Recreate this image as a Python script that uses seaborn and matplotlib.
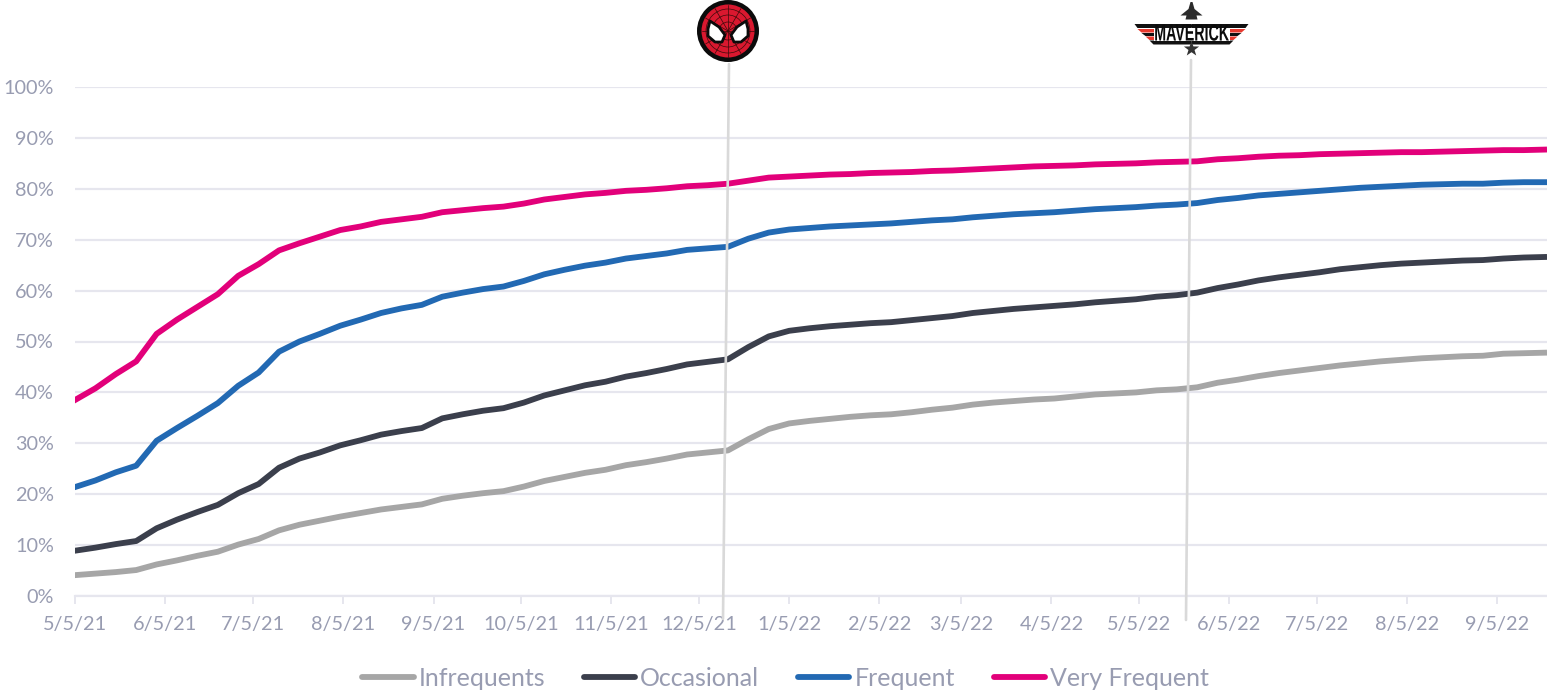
import numpy as np
import pandas as pd
import matplotlib
matplotlib.use("Agg")
import matplotlib.pyplot as plt
from matplotlib.lines import Line2D
from matplotlib.patches import Circle, Polygon
from matplotlib.patheffects import AbstractPathEffect
from matplotlib.transforms import Affine2D
from matplotlib.ticker import FuncFormatter
import seaborn as sns

start_date = "2021-05-05"
n_weeks = 73

infrequents = [4.1, 4.4, 4.7, 5.1, 6.2, 7.0, 7.9, 8.7, 10.1, 11.2, 12.9, 14.0, 14.8, 15.6, 16.3, 17.0, 17.5, 18.0, 19.1, 19.7, 20.2, 20.6, 21.5, 22.6, 23.4, 24.2, 24.8, 25.7, 26.3, 27.0, 27.8, 28.2, 28.6, 30.8, 32.8, 33.9, 34.4, 34.8, 35.2, 35.5, 35.7, 36.1, 36.6, 37.0, 37.6, 38.0, 38.3, 38.6, 38.8, 39.2, 39.6, 39.8, 40.0, 40.4, 40.6, 41.0, 41.9, 42.5, 43.2, 43.8, 44.3, 44.8, 45.3, 45.7, 46.1, 46.4, 46.7, 46.9, 47.1, 47.2, 47.6, 47.7, 47.8]
occasional = [8.9, 9.5, 10.2, 10.8, 13.3, 15.0, 16.5, 17.9, 20.2, 22.0, 25.2, 27.0, 28.2, 29.6, 30.6, 31.7, 32.4, 33.0, 34.9, 35.7, 36.4, 36.9, 38.0, 39.4, 40.4, 41.4, 42.1, 43.1, 43.8, 44.6, 45.5, 46.0, 46.5, 48.9, 51.0, 52.1, 52.6, 53.0, 53.3, 53.6, 53.8, 54.2, 54.6, 55.0, 55.6, 56.0, 56.4, 56.7, 57.0, 57.3, 57.7, 58.0, 58.3, 58.8, 59.1, 59.6, 60.5, 61.2, 62.0, 62.6, 63.1, 63.6, 64.2, 64.6, 65.0, 65.3, 65.5, 65.7, 65.9, 66.0, 66.3, 66.5, 66.6]
frequent = [21.4, 22.7, 24.3, 25.6, 30.5, 33.0, 35.4, 37.9, 41.3, 43.9, 48.0, 50.0, 51.5, 53.1, 54.3, 55.6, 56.5, 57.2, 58.8, 59.6, 60.3, 60.8, 61.9, 63.2, 64.1, 64.9, 65.5, 66.3, 66.8, 67.3, 68.0, 68.3, 68.6, 70.2, 71.4, 72.0, 72.3, 72.6, 72.8, 73.0, 73.2, 73.5, 73.8, 74.0, 74.4, 74.7, 75.0, 75.2, 75.4, 75.7, 76.0, 76.2, 76.4, 76.7, 76.9, 77.2, 77.8, 78.2, 78.7, 79.0, 79.3, 79.6, 79.9, 80.2, 80.4, 80.6, 80.8, 80.9, 81.0, 81.0, 81.2, 81.3, 81.3]
very_frequent = [38.5, 40.8, 43.6, 46.1, 51.5, 54.3, 56.8, 59.3, 62.9, 65.2, 67.9, 69.3, 70.6, 71.9, 72.6, 73.5, 74.0, 74.5, 75.4, 75.8, 76.2, 76.5, 77.1, 77.9, 78.4, 78.9, 79.2, 79.6, 79.8, 80.1, 80.5, 80.7, 81.0, 81.6, 82.2, 82.4, 82.6, 82.8, 82.9, 83.1, 83.2, 83.3, 83.5, 83.6, 83.8, 84.0, 84.2, 84.4, 84.5, 84.6, 84.8, 84.9, 85.0, 85.2, 85.3, 85.4, 85.8, 86.0, 86.3, 86.5, 86.6, 86.8, 86.9, 87.0, 87.1, 87.2, 87.2, 87.3, 87.4, 87.5, 87.6, 87.6, 87.7]

series_names = ["Infrequents", "Occasional", "Frequent", "Very Frequent"]
series_colors = ["#A6A6A6", "#3B3F4C", "#2269B3", "#E2007A"]
x_tick_dates = ["2021-05-05", "2021-06-05", "2021-07-05", "2021-08-05", "2021-09-05", "2021-10-05",
                "2021-11-05", "2021-12-05", "2022-01-05", "2022-02-05", "2022-03-05", "2022-04-05",
                "2022-05-05", "2022-06-05", "2022-07-05", "2022-08-05", "2022-09-05"]
x_tick_labels = ["5/5/21", "6/5/21", "7/5/21", "8/5/21", "9/5/21", "10/5/21", "11/5/21", "12/5/21",
                 "1/5/22", "2/5/22", "3/5/22", "4/5/22", "5/5/22", "6/5/22", "7/5/22", "8/5/22", "9/5/22"]

sns.set_theme(style="white")
plt.rcParams["font.family"] = ["Lato", "DejaVu Sans"]
TEXT = "#989CB1"
GRID = "#E6E6EE"
W, H = 1547, 693
LW = 4.2

dates = pd.date_range(start_date, periods=n_weeks, freq="7D")
df = pd.DataFrame({"date": dates, "Infrequents": infrequents, "Occasional": occasional,
                   "Frequent": frequent, "Very Frequent": very_frequent})
long = df.melt("date", var_name="segment", value_name="share")

fig = plt.figure(figsize=(W / 100, H / 100), dpi=100, facecolor="white")
ax = fig.add_axes([75 / W, 1 - 596 / H, (W - 75) / W, (596 - 87) / H])
sns.lineplot(data=long, x="date", y="share", hue="segment", hue_order=series_names,
             palette=series_colors, linewidth=LW, ax=ax, legend=False, zorder=3)
for ln in ax.get_lines():
    ln.set_solid_joinstyle("round")
    ln.set_solid_capstyle("projecting")

ax.set_xlim(dates[0], dates[-1] + pd.Timedelta(days=1))
ax.set_ylim(0, 100)
ax.set_xlabel("")
ax.set_ylabel("")
ax.set_yticks(np.arange(0, 101, 10))
ax.yaxis.set_major_formatter(FuncFormatter(lambda v, _: f"{int(v)}%"))
ax.set_xticks(pd.to_datetime(x_tick_dates))
ax.set_xticklabels(x_tick_labels)
ax.grid(axis="y", color=GRID, linewidth=1.6, zorder=0)
ax.grid(axis="x", visible=False)
for s in ["top", "right", "left"]:
    ax.spines[s].set_visible(False)
ax.spines["bottom"].set_color(GRID)
ax.spines["bottom"].set_linewidth(1.6)
ax.tick_params(axis="y", length=0, labelsize=14.3, labelcolor=TEXT, pad=15)
ax.tick_params(axis="x", length=5.5, width=1.4, color=GRID, labelsize=14.3, labelcolor=TEXT, pad=9,
               bottom=True)

handles = [Line2D([0], [0], color=c, lw=LW, solid_capstyle="round") for c in series_colors]
leg = ax.legend(handles, series_names, ncol=4, loc="center", frameon=False, fontsize=18,
                handlelength=2.05, handletextpad=0.2, columnspacing=1.55, borderpad=0)
for t in leg.get_texts():
    t.set_color(TEXT)
leg.set_bbox_to_anchor((785.5 / W, 1 - 678.5 / H), transform=fig.transFigure)

# overlay in pixel coordinates for the annotation lines and logo badges
ov = fig.add_axes([0, 0, 1, 1], facecolor="none")
ov.set_xlim(0, W)
ov.set_ylim(H, 0)
ov.axis("off")
ov.add_line(Line2D([729, 723], [64, 619], color="#D9D9D9", lw=1.9, zorder=4))
ov.add_line(Line2D([1191, 1186], [60, 620], color="#D9D9D9", lw=1.9, zorder=4))

# spider badge
cx, cy = 728, 31
ov.add_patch(Circle((cx, cy), 31, fc="#0B0B0B", ec="none", zorder=5))
ov.add_patch(Circle((cx, cy), 26.5, fc="#D9182F", ec="none", zorder=6))
for ang in np.arange(0, 360, 30):
    a = np.deg2rad(ang)
    ov.add_line(Line2D([cx, cx + 26 * np.cos(a)], [cy, cy + 26 * np.sin(a)], color="#3A0A0A", lw=0.5, zorder=7))
for r in (9, 16, 22):
    ov.add_patch(Circle((cx, cy), r, fc="none", ec="#3A0A0A", lw=0.5, zorder=7))
for sgn in (-1, 1):
    pts = [(cx + sgn * 3, cy + 4), (cx + sgn * 6, cy + 11), (cx + sgn * 13, cy + 11),
           (cx + sgn * 20, cy + 5), (cx + sgn * 20, cy - 2), (cx + sgn * 18, cy - 10), (cx + sgn * 9, cy - 4)]
    ov.add_patch(Polygon(pts, closed=True, fc="white", ec="#0B0B0B", lw=2.0, joinstyle="round", zorder=8))

# maverick badge
mx = 1191.5
ov.add_patch(Polygon([(mx - 1, 2), (mx + 1, 2), (mx + 3, 9), (mx + 11, 15.5), (mx + 5, 15.5), (mx + 6, 19.5),
                      (mx - 6, 19.5), (mx - 5, 15.5), (mx - 11, 15.5), (mx - 3, 9)], fc="#2B2B2B", ec="none", zorder=5))
for sgn in (-1, 1):
    ov.add_patch(Polygon([(mx + sgn * 57, 24), (mx + sgn * 54, 28), (mx, 28), (mx, 24)], fc="#111111", ec="none", zorder=5))
    ov.add_patch(Polygon([(mx + sgn * 54, 29), (mx + sgn * 50, 32.5), (mx + sgn * 36, 32.5), (mx + sgn * 36, 29)], fc="#E8392E", ec="none", zorder=5))
    ov.add_patch(Polygon([(mx + sgn * 50, 33), (mx + sgn * 46, 36), (mx + sgn * 36, 36), (mx + sgn * 36, 33)], fc="#111111", ec="none", zorder=5))
    ov.add_patch(Polygon([(mx + sgn * 46, 36.5), (mx + sgn * 42, 40), (mx + sgn * 36, 40), (mx + sgn * 36, 36.5)], fc="#E8392E", ec="none", zorder=5))
    ov.add_patch(Polygon([(mx + sgn * 42, 40.5), (mx + sgn * 38, 44.5), (mx, 44.5), (mx, 40.5)], fc="#111111", ec="none", zorder=5))
star = [(mx + (8 if i % 2 == 0 else 3.2) * np.sin(i * np.pi / 5), 49 - (8 if i % 2 == 0 else 3.2) * np.cos(i * np.pi / 5)) for i in range(10)]
ov.add_patch(Polygon(star, fc="#333333", ec="none", zorder=5))
ov.add_patch(Polygon([(mx - 38, 28), (mx + 38, 28), (mx + 38, 40.5), (mx - 38, 40.5)], fc="white", ec="none", zorder=6))


class Squeeze(AbstractPathEffect):
    """Condense the wordmark about its centre, as no condensed heavy face is installed."""

    def __init__(self, x, y, sx, sy):
        super().__init__()
        self.t = Affine2D().translate(-x, -y).scale(sx, sy).translate(x, y)

    def draw_path(self, renderer, gc, tpath, affine, rgbFace=None):
        renderer.draw_path(gc, tpath, affine + self.t, rgbFace)


word = ov.text(mx, 34.7, "MAVERICK", ha="center", va="center", fontsize=12.8, fontweight="bold",
               color="#0B0B0B", family=["Liberation Sans", "DejaVu Sans"], zorder=7)
word.set_path_effects([Squeeze(mx, H - 34.7, 0.8, 1.3)])

fig.savefig("out.png", dpi=100)
